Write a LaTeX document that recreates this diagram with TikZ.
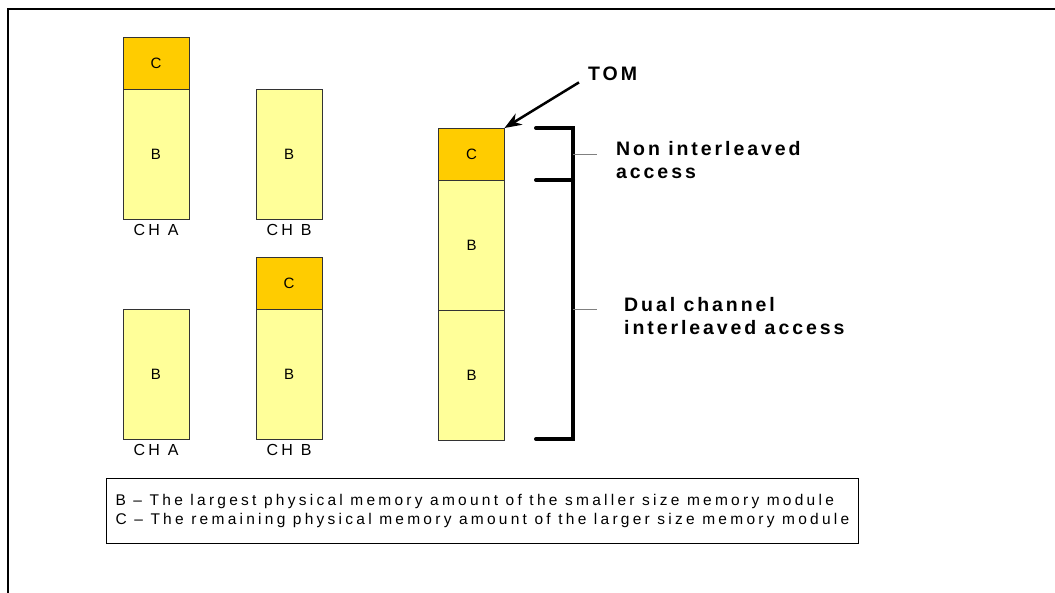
\documentclass[tikz,border=0pt]{standalone}
\usepackage{fontspec}
\setmainfont{Liberation Sans}
\newfontfamily\spacedfont[LetterSpace=21]{Liberation Sans}
\newfontfamily\notefont[LetterSpace=15]{Liberation Sans}
\usetikzlibrary{arrows}
\usetikzlibrary{arrows.meta}
\usetikzlibrary{positioning}
\definecolor{memB}{RGB}{255,255,153}
\definecolor{memC}{RGB}{255,204,0}

\begin{document}
\begin{tikzpicture}[x=1pt,y=-1pt,>={Stealth[length=17pt,width=13pt]},node distance=0pt,
    mem/.style={draw=black!80,line width=0.8pt,minimum width=66pt,inner sep=0pt,outer sep=0pt,
      font=\fontsize{15}{17}\selectfont},
    memb/.style={mem,fill=memB,minimum height=130pt},
    memc/.style={mem,fill=memC,minimum height=52pt},
    chan/.style={inner sep=0pt,anchor=north,font=\spacedfont\fontsize{16}{18}\selectfont},
    note/.style={anchor=north west,inner sep=0pt,align=left,
      font=\notefont\bfseries\fontsize{19.5}{23.5}\selectfont},
    bracket/.style={line width=4pt,line cap=round,line join=miter},
    tick/.style={gray,line width=0.8pt},
    legend/.style={draw,line width=1.2pt,anchor=north west,align=left,inner xsep=9pt,
      minimum height=65pt,font=\spacedfont\fontsize{15.5}{19}\selectfont}]

      \useasboundingbox (0,0) rectangle (1055,593);
      \draw[line width=2pt] (8,593) -- (8,9) -- (1055,9);

      % upper pair
      \node (a1c) [memc] at (156,63) {C};
      \node (a1b) [memb,below=of a1c] {B};
      \node (a1) [chan,below=5pt of a1b] {CH A};
      \node (b1b) [memb] at (289,154) {B};
      \node (b1) [chan,below=5pt of b1b] {CH B};

      % lower pair
      \node (a2b) [memb] at (156,374.5) {B};
      \node (a2) [chan,below=5pt of a2b] {CH A};
      \node (b2c) [memc] at (289,283.5) {C};
      \node (b2b) [memb,below=of b2c] {B};
      \node (b2) [chan,below=5pt of b2b] {CH B};

      % resulting map
      \node (rc) [memc] at (471.5,154) {C};
      \node (rb1) [memb,below=of rc] {B};
      \node (rb2) [memb,below=of rb1] {B};

      \node (tom) [anchor=base west,inner xsep=9pt,inner ysep=1pt,
        font=\notefont\bfseries\fontsize{19.5}{22}\selectfont] at (579,81) {TOM};
      \draw[->,line width=2.5pt] (tom.south west) -- (rc.north east);

      \draw[bracket] (536,128) -- (573,128) -- (573,439) -- (536,439);
      \draw[bracket] (536,180) -- (573,180);
      \draw[tick] (573,154) -- (597,154);
      \draw[tick] (573,309) -- (597,309);

      \node (non) [note] at (616,141) {Non interleaved\\access};
      \node (dual) [note] at (624,297) {Dual channel\\interleaved access};

      \node (key) [legend] at (106,478)
        {B – The largest physical memory amount of the smaller size memory module\\
         C – The remaining physical memory amount of the larger size memory module};
\end{tikzpicture}
\end{document}
